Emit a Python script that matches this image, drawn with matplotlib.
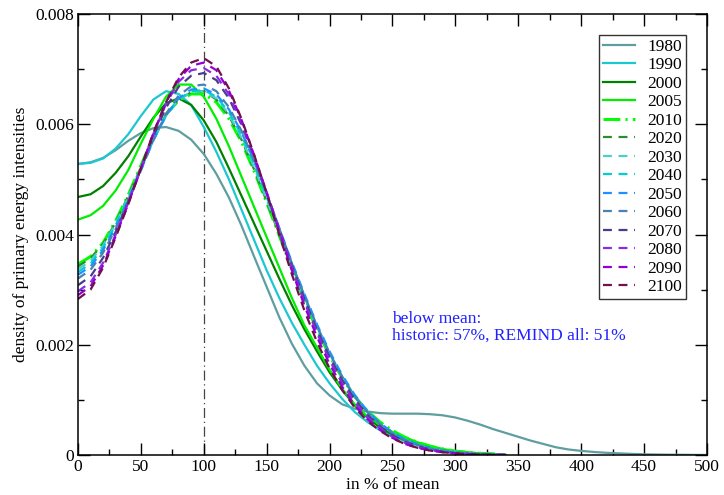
import numpy as np
import matplotlib.pyplot as plt

plt.rcParams['font.family'] = ['Liberation Serif', 'DejaVu Serif']

# x grid (% of mean) for the projected / recent years
x = np.arange(0, 341, 10)
# 1980 reaches further out
x1980 = np.arange(0, 501, 10)

# densities in units of 1e-3
d1980 = [5.28, 5.31, 5.39, 5.53, 5.70, 5.84, 5.93, 5.95, 5.88, 5.72,
         5.46, 5.10, 4.67, 4.16, 3.60, 3.05, 2.50, 2.02, 1.62, 1.30,
         1.08, 0.92, 0.84, 0.79, 0.76, 0.75, 0.75, 0.75, 0.74, 0.72,
         0.68, 0.62, 0.55, 0.47, 0.40, 0.33, 0.26, 0.20, 0.14, 0.10,
         0.075, 0.055, 0.04, 0.03, 0.02, 0.013, 0.009, 0.006, 0.004, 0.002, 0.001]
d1990 = [5.28, 5.30, 5.38, 5.56, 5.82, 6.15, 6.45, 6.60, 6.55, 6.35,
         5.95, 5.50, 5.00, 4.45, 3.90, 3.35, 2.85, 2.40, 2.00, 1.62,
         1.30, 1.02, 0.78, 0.60, 0.45, 0.34, 0.25, 0.18, 0.12, 0.08,
         0.05, 0.03, 0.02, 0.01, 0.0]
d2000 = [4.68, 4.73, 4.88, 5.12, 5.42, 5.78, 6.12, 6.38, 6.47, 6.35,
         6.07, 5.68, 5.20, 4.70, 4.20, 3.70, 3.20, 2.72, 2.28, 1.88,
         1.50, 1.18, 0.90, 0.68, 0.50, 0.37, 0.27, 0.19, 0.13, 0.09,
         0.06, 0.04, 0.02, 0.01, 0.0]
d2005 = [4.27, 4.35, 4.52, 4.80, 5.17, 5.65, 6.10, 6.50, 6.72, 6.72,
         6.50, 6.10, 5.60, 5.05, 4.50, 3.95, 3.40, 2.85, 2.35, 1.95,
         1.55, 1.20, 0.92, 0.70, 0.55, 0.42, 0.32, 0.23, 0.16, 0.11,
         0.07, 0.05, 0.03, 0.02, 0.0]
d2010 = [3.46, 3.60, 3.85, 4.25, 4.72, 5.25, 5.78, 6.18, 6.43, 6.55,
         6.55, 6.40, 6.10, 5.68, 5.15, 4.58, 3.98, 3.38, 2.80, 2.27,
         1.80, 1.40, 1.06, 0.80, 0.60, 0.44, 0.32, 0.23, 0.16, 0.11,
         0.07, 0.05, 0.03, 0.02, 0.0]
d2020 = [3.42, 3.57, 3.83, 4.22, 4.70, 5.22, 5.75, 6.17, 6.45, 6.58,
         6.60, 6.45, 6.15, 5.72, 5.18, 4.60, 4.00, 3.40, 2.82, 2.28,
         1.80, 1.38, 1.04, 0.77, 0.56, 0.40, 0.28, 0.19, 0.13, 0.08,
         0.05, 0.03, 0.015, 0.007, 0.0]
d2030 = [3.37, 3.52, 3.80, 4.20, 4.68, 5.20, 5.72, 6.15, 6.45, 6.58,
         6.60, 6.47, 6.18, 5.75, 5.22, 4.63, 4.03, 3.42, 2.85, 2.30,
         1.82, 1.40, 1.05, 0.78, 0.56, 0.40, 0.28, 0.19, 0.12, 0.08,
         0.05, 0.03, 0.015, 0.007, 0.0]
d2040 = [3.32, 3.47, 3.76, 4.17, 4.66, 5.19, 5.72, 6.16, 6.46, 6.60,
         6.62, 6.50, 6.22, 5.80, 5.27, 4.68, 4.07, 3.46, 2.88, 2.33,
         1.84, 1.42, 1.07, 0.79, 0.57, 0.40, 0.28, 0.19, 0.12, 0.08,
         0.05, 0.03, 0.015, 0.007, 0.0]
d2050 = [3.27, 3.42, 3.72, 4.13, 4.63, 5.17, 5.71, 6.16, 6.47, 6.63,
         6.65, 6.54, 6.27, 5.86, 5.33, 4.74, 4.12, 3.50, 2.92, 2.37,
         1.88, 1.45, 1.09, 0.80, 0.58, 0.41, 0.28, 0.19, 0.12, 0.08,
         0.05, 0.03, 0.015, 0.007, 0.0]
d2060 = [3.20, 3.36, 3.67, 4.10, 4.61, 5.16, 5.72, 6.19, 6.52, 6.69,
         6.72, 6.60, 6.31, 5.88, 5.34, 4.74, 4.11, 3.48, 2.89, 2.34,
         1.85, 1.42, 1.06, 0.78, 0.56, 0.39, 0.27, 0.18, 0.11, 0.07,
         0.04, 0.025, 0.012, 0.005, 0.0]
d2070 = [3.08, 3.24, 3.58, 4.05, 4.60, 5.19, 5.79, 6.30, 6.68, 6.88,
         6.93, 6.80, 6.47, 5.99, 5.40, 4.76, 4.10, 3.44, 2.83, 2.27,
         1.78, 1.36, 1.01, 0.73, 0.52, 0.36, 0.24, 0.16, 0.10, 0.06,
         0.035, 0.02, 0.01, 0.004, 0.0]
d2080 = [2.97, 3.13, 3.49, 4.00, 4.58, 5.20, 5.83, 6.37, 6.77, 6.98,
         7.02, 6.88, 6.54, 6.03, 5.42, 4.76, 4.08, 3.40, 2.77, 2.21,
         1.72, 1.30, 0.96, 0.69, 0.49, 0.33, 0.22, 0.14, 0.09, 0.055,
         0.03, 0.017, 0.009, 0.004, 0.0]
d2090 = [2.90, 3.06, 3.44, 3.97, 4.56, 5.20, 5.84, 6.40, 6.82, 7.06,
         7.12, 6.98, 6.61, 6.08, 5.44, 4.76, 4.05, 3.35, 2.71, 2.14,
         1.65, 1.24, 0.90, 0.65, 0.46, 0.31, 0.20, 0.13, 0.08, 0.05,
         0.03, 0.015, 0.008, 0.003, 0.0]
d2100 = [2.83, 3.00, 3.40, 3.95, 4.55, 5.20, 5.85, 6.40, 6.85, 7.12,
         7.20, 7.05, 6.65, 6.10, 5.45, 4.75, 4.00, 3.28, 2.62, 2.05,
         1.57, 1.18, 0.86, 0.62, 0.44, 0.30, 0.20, 0.13, 0.08, 0.05,
         0.03, 0.015, 0.008, 0.003, 0.0]

years = ['1980', '1990', '2000', '2005', '2010', '2020', '2030',
         '2040', '2050', '2060', '2070', '2080', '2090', '2100']
series = [d1980, d1990, d2000, d2005, d2010, d2020, d2030,
          d2040, d2050, d2060, d2070, d2080, d2090, d2100]
colors = ['#5f9ea0', '#1cc8d0', '#008000', '#00ee00', '#00ff00', '#2e8b2e',
          '#48d1cc', '#00ced1', '#1e90ff', '#4682b4', '#483d8b', '#8a2be2',
          '#9400d3', '#70104f']

fig = plt.figure(figsize=(7.24, 4.95), dpi=100)
ax = fig.add_axes([0.1077, 0.0808, 0.8688, 0.8909])

for yr, d, c in zip(years, series, colors):
    xs = x1980 if yr == '1980' else x
    vals = np.array(d) * 1e-3
    if int(yr) < 2010:
        ax.plot(xs, vals, color=c, lw=1.6, label=yr)
    elif yr == '2010':
        ax.plot(xs, vals, color=c, lw=2.2, linestyle=(0, (5.5, 1.7, 0.7, 1.7)), label=yr)
    else:
        ax.plot(xs, vals, color=c, lw=1.6, linestyle=(0, (4, 3)), label=yr)

ax.axvline(100, color='#444444', lw=0.9, linestyle=(0, (8, 3, 1, 3)), zorder=0)

ax.text(250, 0.00262, 'below mean:\nhistoric: 57%, REMIND all: 51%',
        color='#2020ff', fontsize=12.5, va='top', ha='left', linespacing=1.05)

ax.set_xlim(0, 500)
ax.set_ylim(0, 0.008)
ax.set_xticks(np.arange(0, 501, 50))
ax.set_xticks(np.arange(0, 501, 25), minor=True)
ax.set_yticks([0, 0.002, 0.004, 0.006, 0.008])
ax.set_yticks(np.arange(0, 0.0081, 0.001), minor=True)
ax.set_yticklabels(['0', '0.002', '0.004', '0.006', '0.008'])
ax.tick_params(which='both', direction='in', top=True, right=True, labelsize=12.5, pad=3)
ax.tick_params(which='major', length=8.5, width=1)
ax.tick_params(which='minor', length=4.3, width=1)
for s in ax.spines.values():
    s.set_linewidth(1.1)

ax.set_xlabel('in % of mean', fontsize=12.5, labelpad=1)
ax.set_ylabel('density of primary energy intensities', fontsize=12.5, labelpad=4)

leg = ax.legend(loc='upper right', bbox_to_anchor=(0.9665, 0.952), fontsize=12.5,
                frameon=True, fancybox=False, handlelength=1.85, handletextpad=0.75,
                labelspacing=0.135, borderpad=0.2, borderaxespad=0)
leg.get_frame().set_edgecolor('black')
leg.get_frame().set_linewidth(1.0)

fig.savefig('out.png', dpi=100)
